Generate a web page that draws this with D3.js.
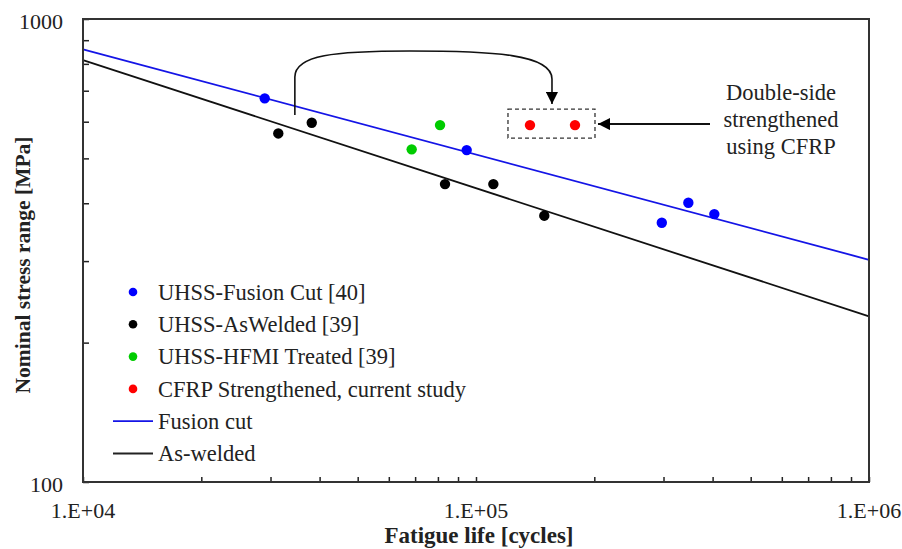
<!doctype html>
<html lang="en">
<head>
<meta charset="utf-8">
<title>S-N curves</title>
<style>
  body { margin: 0; background: #fff; }
  svg text { font-family: "Liberation Serif", "Times New Roman", serif; fill: #222; }
</style>
</head>
<body>
<div id="chart"></div>
<script src="https://cdnjs.cloudflare.com/ajax/libs/d3/7.8.5/d3.min.js"></script>
<script>
// fatigue life [cycles], nominal stress range [MPa]
const fusionCut = [[29000, 674], [94700, 521], [297000, 363], [347000, 401], [404000, 379]];
const asWelded = [[31400, 566], [38200, 597], [83400, 440], [110700, 440], [149200, 376]];
const hfmi = [[68600, 523], [81000, 590]];
const cfrp = [[137200, 590], [178600, 590]];

const fusionLine = [[1e4, 860], [1e6, 302]];
const weldedLine = [[1e4, 815], [1e6, 228]];

const xTickLabels = ["1.E+04", "1.E+05", "1.E+06"];
const yTickLabels = ["100", "1000"];

const legendItems = [
  { label: "UHSS-Fusion Cut [40]", color: "#0000ff", type: "dot" },
  { label: "UHSS-AsWelded [39]", color: "#000000", type: "dot" },
  { label: "UHSS-HFMI Treated [39]", color: "#00cc00", type: "dot" },
  { label: "CFRP Strengthened, current study", color: "#ff0000", type: "dot" },
  { label: "Fusion cut", color: "#1414e6", type: "line" },
  { label: "As-welded", color: "#222222", type: "line" }
];

const width = 902, height = 549;
const margin = { top: 19, right: 33, bottom: 67, left: 83 };
const svg = d3.select("#chart").append("svg").attr("width", width).attr("height", height);

const x = d3.scaleLog().domain([1e4, 1e6]).range([margin.left, width - margin.right]);
const y = d3.scaleLog().domain([100, 1000]).range([height - margin.bottom, margin.top]);

// minor ticks inside the frame
const xTicks = x.ticks();
const yTicks = y.ticks();

svg.append("g")
  .attr("transform", `translate(0,${y.range()[0]})`)
  .call(d3.axisBottom(x).tickValues(xTicks).tickSize(-5).tickFormat(""))
  .call(g => g.select(".domain").remove())
  .call(g => g.selectAll("line").attr("stroke", "#222").attr("stroke-width", 1.5));

svg.append("g")
  .attr("transform", `translate(${x.range()[0]},0)`)
  .call(d3.axisLeft(y).tickValues(yTicks).tickSize(-6).tickFormat(""))
  .call(g => g.select(".domain").remove())
  .call(g => g.selectAll("line").attr("stroke", "#222").attr("stroke-width", 1.5));

// fitted lines
const line = d3.line().x(d => x(d[0])).y(d => y(d[1]));
svg.append("path").datum(fusionLine).attr("d", line)
  .attr("fill", "none").attr("stroke", "#1414e6").attr("stroke-width", 1.8);
svg.append("path").datum(weldedLine).attr("d", line)
  .attr("fill", "none").attr("stroke", "#111").attr("stroke-width", 1.8);

// frame
svg.append("rect")
  .attr("x", x.range()[0]).attr("y", y.range()[1])
  .attr("width", x.range()[1] - x.range()[0]).attr("height", y.range()[0] - y.range()[1])
  .attr("fill", "none").attr("stroke", "#333").attr("stroke-width", 2);

// points
const series = [
  { data: fusionCut, color: "#0000ff" },
  { data: asWelded, color: "#000000" },
  { data: hfmi, color: "#00cc00" },
  { data: cfrp, color: "#ff0000" }
];
series.forEach(s => {
  svg.append("g").selectAll("circle")
    .data(s.data)
    .join("circle")
    .attr("cx", d => x(d[0]))
    .attr("cy", d => y(d[1]))
    .attr("r", 5.2)
    .attr("fill", s.color);
});

// tick labels
svg.append("g").selectAll("text")
  .data([1e4, 1e5, 1e6])
  .join("text")
  .attr("x", d => x(d))
  .attr("y", y.range()[0] + 28)
  .attr("dy", "0.35em")
  .attr("text-anchor", "middle")
  .style("font-size", "22px")
  .text((d, i) => xTickLabels[i]);

svg.append("g").selectAll("text")
  .data([100, 1000])
  .join("text")
  .attr("x", x.range()[0] - 20)
  .attr("y", d => y(d) + 2)
  .attr("dy", "0.35em")
  .attr("text-anchor", "end")
  .style("font-size", "22px")
  .text((d, i) => yTickLabels[i]);

// axis titles
svg.append("text")
  .attr("x", 479).attr("y", 535).attr("dy", "0.35em")
  .attr("text-anchor", "middle")
  .style("font-size", "23px").style("font-weight", "bold")
  .text("Fatigue life [cycles]");

svg.append("text")
  .attr("transform", "translate(22,265) rotate(-90)")
  .attr("dy", "0.35em")
  .attr("text-anchor", "middle")
  .style("font-size", "21.5px").style("font-weight", "bold")
  .text("Nominal stress range [MPa]");

// legend
const legend = svg.append("g").attr("transform", "translate(113,292)");
const rows = legend.selectAll("g").data(legendItems).join("g")
  .attr("transform", (d, i) => `translate(0,${i * 32.3})`);
rows.filter(d => d.type === "dot").append("circle")
  .attr("cx", 20).attr("cy", 0).attr("r", 4.3).attr("fill", d => d.color);
rows.filter(d => d.type === "line").append("line")
  .attr("x1", 0).attr("x2", 40).attr("y1", 0).attr("y2", 0)
  .attr("stroke", d => d.color).attr("stroke-width", 1.8);
rows.append("text")
  .attr("x", 45).attr("y", 0).attr("dy", "0.35em")
  .style("font-size", "22.5px")
  .text(d => d.label);

// annotation
const defs = svg.append("defs");
defs.append("marker")
  .attr("id", "head").attr("viewBox", "0 0 10 10")
  .attr("refX", 10).attr("refY", 5)
  .attr("markerWidth", 12).attr("markerHeight", 12)
  .attr("markerUnits", "userSpaceOnUse")
  .attr("orient", "auto")
  .append("path").attr("d", "M0,0 L10,5 L0,10 Z").attr("fill", "#000");

// box around the CFRP points
const bx0 = x(cfrp[0][0]) - 22, bx1 = x(cfrp[1][0]) + 20;
const by = y(cfrp[0][1]);
svg.append("rect")
  .attr("x", bx0).attr("y", by - 16)
  .attr("width", bx1 - bx0).attr("height", 29)
  .attr("fill", "none").attr("stroke", "#333")
  .attr("stroke-width", 1.3).attr("stroke-dasharray", "4,3");

// curved arrow from as-welded/fusion zone to the box
const sx = x(34600), sy = y(620), topY = y(853);
const ex = (bx0 + bx1) / 2 + 0.5, ey = by - 21;
svg.append("path")
  .attr("d", `M${sx},${sy} L${sx},${topY + 26} C${sx},${topY + 4} ${sx + 40},${topY} ${sx + 115},${topY}
              C${ex - 60},${topY} ${ex},${topY + 3} ${ex},${topY + 28} L${ex},${ey}`)
  .attr("fill", "none").attr("stroke", "#111").attr("stroke-width", 1.6)
  .attr("marker-end", "url(#head)");

// horizontal arrow from text to box
svg.append("line")
  .attr("x1", 710).attr("x2", bx1 + 3)
  .attr("y1", by - 1).attr("y2", by - 1)
  .attr("stroke", "#111").attr("stroke-width", 2)
  .attr("marker-end", "url(#head)");

const note = ["Double-side", "strengthened", "using CFRP"];
svg.append("g").selectAll("text").data(note).join("text")
  .attr("x", 781).attr("y", (d, i) => 92 + i * 27).attr("dy", "0.35em")
  .attr("text-anchor", "middle")
  .style("font-size", "22.5px")
  .text(d => d);
</script>
</body>
</html>
